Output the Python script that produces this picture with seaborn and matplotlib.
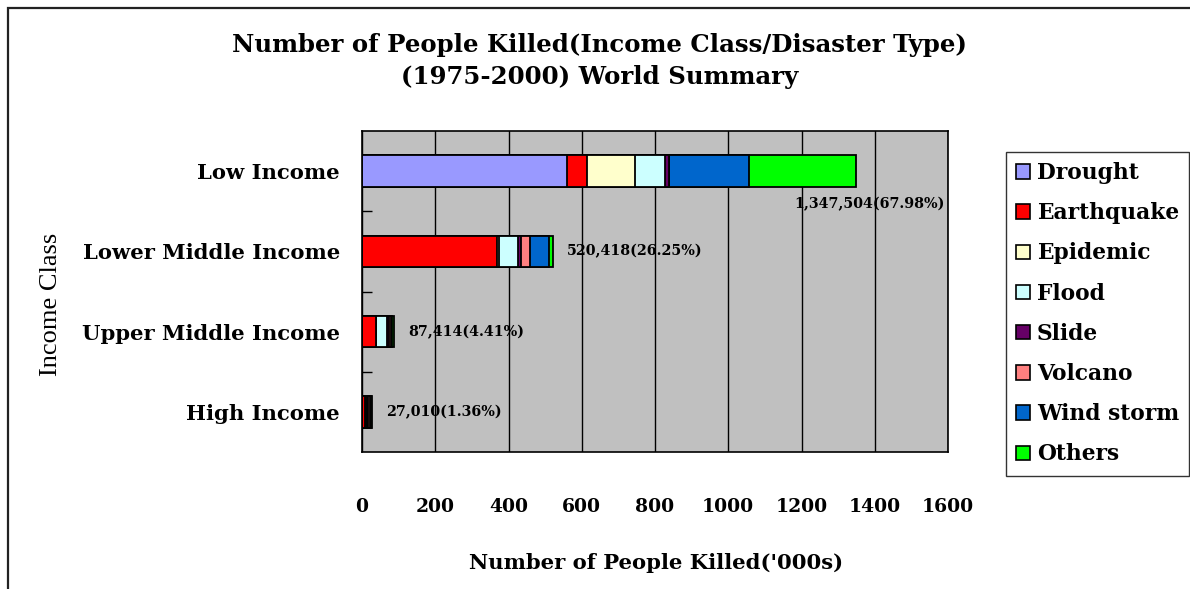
import matplotlib
matplotlib.use("Agg")
import matplotlib.pyplot as plt
from matplotlib.patches import Rectangle, Patch
import seaborn as sns
import numpy as np

# Income classes (top to bottom) and deaths by disaster type, in thousands
income_classes = ["Low Income", "Lower Middle Income", "Upper Middle Income", "High Income"]
disaster_types = ["Drought", "Earthquake", "Epidemic", "Flood", "Slide", "Volcano", "Wind storm", "Others"]

drought    = [560.4,   0.0,   0.0,   0.0]
earthquake = [ 54.5, 368.1,  37.3,   8.0]
epidemic   = [131.6,   7.1,   0.0,   3.2]
flood      = [ 80.9,  52.1,  31.9,   3.2]
slide      = [  9.8,   6.5,   4.5,   3.2]
volcano    = [  0.0,  25.4,   4.5,   3.2]
wind_storm = [219.8,  50.2,   4.5,   3.2]
others     = [290.504, 11.018, 4.714, 3.01]

# Total number of people killed per income class
totals = [1347504, 520418, 87414, 27010]

colors = ["#9999FF", "#FF0000", "#FFFFCC", "#CCFFFF", "#660066", "#FF8080", "#0066CC", "#00FF00"]

x_ticks = [0, 200, 400, 600, 800, 1000, 1200, 1400, 1600]

series = [drought, earthquake, epidemic, flood, slide, volcano, wind_storm, others]

sns.set_theme(style="white")
plt.rcParams["font.family"] = ["DejaVu Serif"]
plt.rcParams["text.color"] = "black"
plt.rcParams["xtick.labelcolor"] = "black"
plt.rcParams["ytick.labelcolor"] = "black"

fig = plt.figure(figsize=(11.9, 5.89), dpi=100)
ax = fig.add_axes([362 / 1190, 1 - 452 / 589, (948 - 362) / 1190, (452 - 131) / 589])
ax.set_facecolor("#C0C0C0")

# Stacked horizontal bars: draw cumulative totals from the outermost segment inward
cum = np.cumsum(np.array(series), axis=0)
for i in range(len(series) - 1, -1, -1):
    sns.barplot(x=cum[i], y=income_classes, orient="h", color=colors[i],
                saturation=1, edgecolor="black", linewidth=1.3, width=0.39, ax=ax)

ax.set_xlim(0, 1600)
ax.set_ylim(3.5, -0.5)
ax.set_xticks(x_ticks)
ax.set_xticklabels([str(v) for v in x_ticks], fontsize=13.5, fontweight="bold")
ax.tick_params(axis="x", length=0, pad=33)
ax.tick_params(axis="y", which="major", length=0, pad=16)
for lab in ax.get_yticklabels():
    lab.set_fontsize(15.2)
    lab.set_fontweight("bold")
ax.set_yticks([0.5, 1.5, 2.5], minor=True)
ax.tick_params(axis="y", which="minor", direction="in", length=7, width=1, color="black", left=True)

ax.grid(axis="x", color="black", linewidth=1)
ax.set_axisbelow(True)
for s in ax.spines.values():
    s.set_color("black")
    s.set_linewidth(1.2)

ax.set_ylabel("")
ax.set_xlabel("")

# Value labels
grand = sum(totals)
for k, t in enumerate(totals):
    txt = f"{t:,}({t / grand * 100:.2f}%)"
    end = t / 1000
    if k == 0:
        ax.annotate(txt, xy=(1592, k + 0.41), ha="right", va="center",
                    fontsize=10.3, fontweight="bold")
    else:
        ax.annotate(txt, xy=(end, k), xytext=(10, 0), textcoords="offset points",
                    ha="left", va="center", fontsize=10.3, fontweight="bold")

fig.text(600 / 1190, 1 - 45 / 589, "Number of People Killed(Income Class/Disaster Type)",
         ha="center", va="center", fontsize=17.6, fontweight="bold")
fig.text(600 / 1190, 1 - 77 / 589, "(1975-2000) World Summary",
         ha="center", va="center", fontsize=17.6, fontweight="bold")
fig.text(656 / 1190, 1 - 563 / 589, "Number of People Killed('000s)",
         ha="center", va="center", fontsize=15.2, fontweight="bold")
fig.text(51 / 1190, 1 - 304 / 589, "Income Class", rotation=90,
         ha="center", va="center", fontsize=19, family="Liberation Serif")

handles = [Patch(facecolor=c, edgecolor="black", linewidth=1.2) for c in colors]
leg = fig.legend(handles, disaster_types, loc="upper left",
                 bbox_to_anchor=(1006 / 1190, 1 - 152 / 589),
                 prop={"size": 15.7, "weight": "bold"},
                 frameon=True, fancybox=False, borderpad=0.46, labelspacing=0.835,
                 handlelength=0.64, handleheight=0.64, handletextpad=0.32,
                 borderaxespad=0)
leg.get_frame().set_edgecolor("black")
leg.get_frame().set_linewidth(1.0)

# Outer chart border
fig.patches.append(Rectangle((8 / 1190, -0.5), 1.5, 1.5 - 8 / 589,
                             transform=fig.transFigure, fill=False,
                             edgecolor="#222222", linewidth=1.6))

fig.savefig("out.png", dpi=100)
